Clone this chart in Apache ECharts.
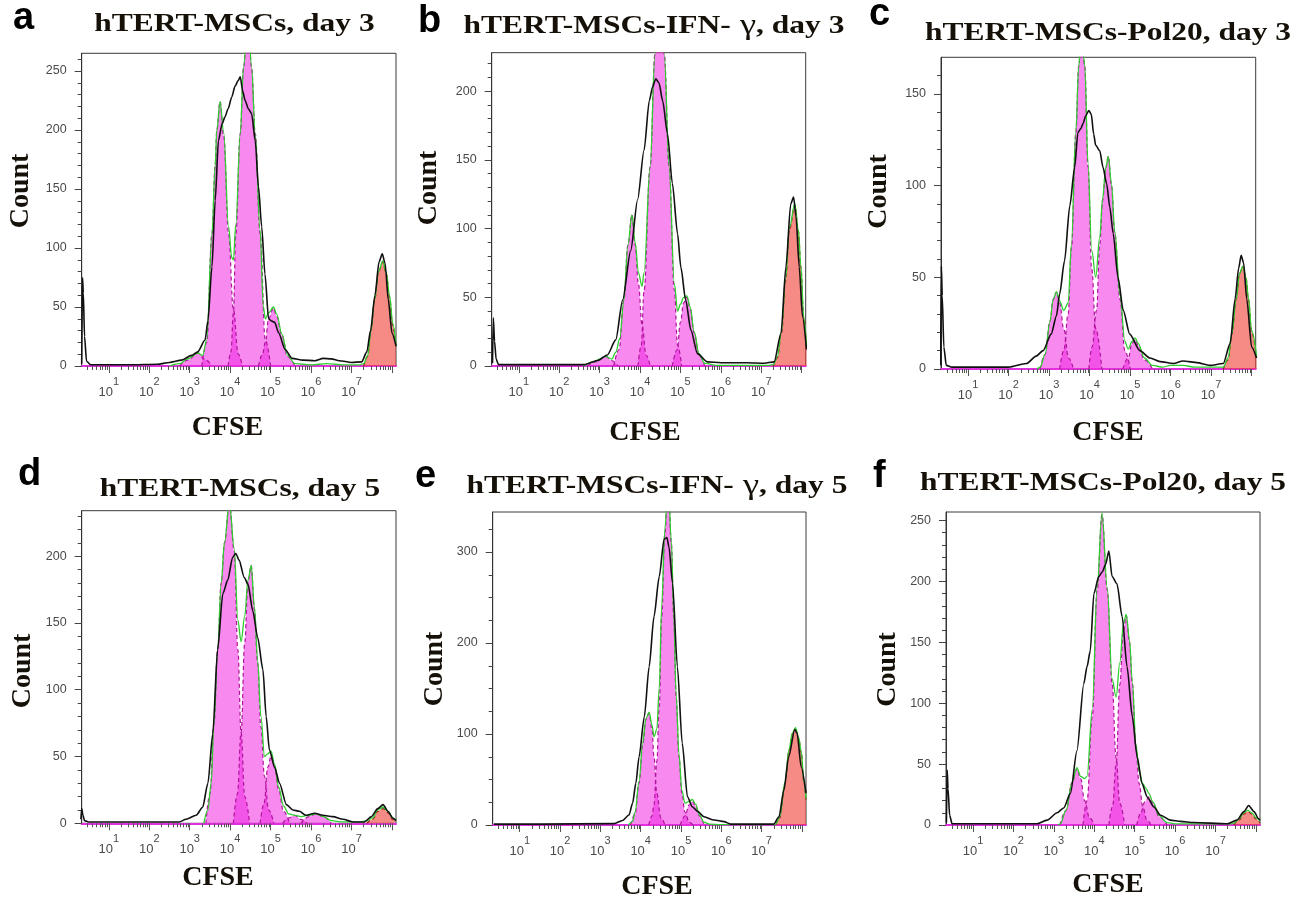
<!DOCTYPE html>
<html><head><meta charset="utf-8">
<script src="https://cdn.jsdelivr.net/npm/echarts@6/dist/echarts.min.js"></script>
<style>html,body{margin:0;padding:0;background:#fff}#c{width:1311px;height:898px}</style>
</head><body><div id="c"></div>
<script>
// ---------- DATA (x = log10 CFSE intensity, y = count) ----------
const panelLetters = ['a','b','c','d','e','f'];
const panelTitles = ['hTERT-MSCs, day 3','hTERT-MSCs-IFN-γ, day 3','hTERT-MSCs-Pol20, day 3',
                     'hTERT-MSCs, day 5','hTERT-MSCs-IFN-γ, day 5','hTERT-MSCs-Pol20, day 5'];
const xDecades = [1,2,3,4,5,6,7];
const xMajorTicks = [1,2,3,4,5,6,7,8];
const yMaxes = [265,228,170,234,344,257];
const aYTicks = [0,50,100,150,200,250];
const bYTicks = [0,50,100,150,200];
const cYTicks = [0,50,100,150];
const dYTicks = [0,50,100,150,200];
const eYTicks = [0,100,200,300];
const fYTicks = [0,50,100,150,200,250];

const aBlack = [[0.33,2],[0.35,75],[0.37,62],[0.4,25],[0.45,4],[0.55,1],[1.5,1],[2.2,1.5],[2.5,3],[2.8,5],[3.05,9],[3.2,12],[3.38,22],[3.45,38],[3.55,84],[3.63,140],[3.71,191],[3.8,205],[3.87,211],[3.95,218],[4.04,228],[4.12,237],[4.2,242],[4.25,245],[4.31,233],[4.37,225],[4.45,218],[4.53,214],[4.62,191],[4.7,152],[4.78,118],[4.86,78],[4.95,40],[5.03,38],[5.1,37],[5.2,28],[5.36,14],[5.53,6.5],[5.8,5],[6.1,4.5],[6.3,6.5],[6.5,6],[6.7,4.5],[7.0,3],[7.25,3.5],[7.38,12],[7.47,30],[7.58,60],[7.68,88],[7.76,95],[7.83,87],[7.91,56],[8.0,28],[8.1,17]];
const aFit = [[2.5,0],[2.75,2],[2.95,6],[3.2,11],[3.32,9],[3.42,22],[3.55,112],[3.63,170],[3.67,200],[3.75,224],[3.84,198],[3.96,118],[4.04,92],[4.08,90],[4.14,120],[4.25,197],[4.33,253],[4.44,300],[4.53,253],[4.62,197],[4.74,115],[4.82,50],[4.87,40],[4.95,45],[5.07,50],[5.15,44],[5.28,27],[5.42,9],[5.6,2],[6.0,1],[6.4,2],[6.8,1],[7.2,1],[7.3,2],[7.4,9],[7.48,30],[7.57,56],[7.67,80],[7.77,89],[7.86,79],[7.94,60],[8.02,36],[8.1,17]];
const aGen = [
  [[2.75,0],[2.95,5],[3.2,11],[3.4,5],[3.55,0]],
  [[3.3,0],[3.42,20],[3.55,112],[3.63,170],[3.67,200],[3.75,224],[3.84,195],[3.96,112],[4.08,48],[4.2,10],[4.3,0]],
  [[3.95,0],[4.02,12],[4.08,45],[4.14,112],[4.25,197],[4.33,253],[4.44,300],[4.53,253],[4.62,197],[4.74,112],[4.87,22],[5.0,0]],
  [[4.7,0],[4.8,10],[4.87,20],[4.95,40],[5.07,49],[5.15,42],[5.28,26],[5.42,8],[5.6,0]]
];
const aParent = [[7.3,0],[7.4,8],[7.48,30],[7.57,56],[7.67,80],[7.77,88],[7.86,78],[7.94,58],[8.02,34],[8.1,15]];

const bBlack = [[0.35,2],[0.37,35],[0.4,18],[0.44,5],[0.5,1],[1.5,1],[2.62,1],[2.95,4],[3.19,8],[3.4,19],[3.57,48],[3.77,84],[3.94,121],[4.1,157],[4.23,193],[4.31,203],[4.39,209],[4.47,206],[4.56,193],[4.68,169],[4.8,133],[4.93,96],[5.01,72],[5.13,48],[5.26,26],[5.42,9],[5.67,3],[6.0,2.4],[6.66,2.4],[7.07,2],[7.32,3],[7.49,24],[7.61,72],[7.73,118],[7.8,123],[7.86,109],[7.94,72],[8.02,36],[8.12,12]];
const bFit = [[2.6,0],[2.85,3],[3.0,5],[3.15,7],[3.3,5],[3.4,10],[3.5,20],[3.6,48],[3.7,88],[3.8,110],[3.88,90],[3.96,68],[4.05,58],[4.1,68],[4.25,145],[4.37,227],[4.47,280],[4.6,227],[4.72,145],[4.85,60],[4.93,40],[5.0,45],[5.08,50],[5.16,51],[5.24,43],[5.34,25],[5.46,9],[5.6,2],[5.9,0.5],[6.5,0.5],[7.2,0.5],[7.3,1],[7.4,7],[7.5,25],[7.6,63],[7.7,101],[7.83,118],[7.92,99],[7.98,73],[8.05,36],[8.12,15]];
const bGen = [
  [[2.7,0],[2.9,3],[3.15,7],[3.3,4],[3.45,0]],
  [[3.35,0],[3.48,12],[3.6,48],[3.7,88],[3.8,110],[3.88,88],[3.96,60],[4.05,30],[4.15,8],[4.25,0]],
  [[3.95,0],[4.03,15],[4.1,55],[4.25,145],[4.37,227],[4.47,280],[4.6,227],[4.72,145],[4.85,55],[4.93,15],[5.03,0]],
  [[4.8,0],[4.92,12],[5.0,32],[5.08,46],[5.16,50],[5.24,42],[5.34,24],[5.46,8],[5.6,0]]
];
const bParent = [[7.3,0],[7.4,6],[7.5,24],[7.6,62],[7.7,100],[7.83,117],[7.92,98],[7.98,72],[8.05,35],[8.12,14]];

const cBlack = [[0.32,2],[0.34,56],[0.36,40],[0.4,12],[0.46,2],[0.6,1],[2.0,1],[2.44,3],[2.68,7],[2.85,10],[3.05,19],[3.18,29],[3.26,41],[3.38,59],[3.51,89],[3.63,110],[3.71,129],[3.78,131],[3.84,134],[3.9,138],[3.98,141],[4.04,139],[4.1,128],[4.15,122],[4.25,119],[4.33,110],[4.42,101],[4.5,88],[4.58,74],[4.7,50],[4.83,32],[4.99,19],[5.24,10],[5.49,6],[5.74,4],[6.07,3],[6.3,4.4],[6.45,4],[6.64,3.5],[6.97,2],[7.3,3],[7.47,14],[7.59,38],[7.68,55],[7.74,62],[7.8,58],[7.88,38],[8.0,12],[8.12,6]];
const cFit = [[2.7,0],[2.78,1],[2.9,8],[3.02,26],[3.1,38],[3.18,42],[3.26,37],[3.36,32],[3.47,36],[3.55,68],[3.66,130],[3.73,165],[3.8,185],[3.88,165],[3.96,112],[4.05,65],[4.15,50],[4.25,72],[4.32,93],[4.4,110],[4.46,116],[4.54,101],[4.62,75],[4.75,40],[4.87,15],[4.95,11],[5.05,15],[5.12,17],[5.2,14],[5.35,6],[5.55,2],[5.8,1],[6.0,2],[6.3,2],[6.6,1],[7.0,1],[7.3,1],[7.42,6],[7.51,19],[7.62,38],[7.7,52],[7.78,56],[7.86,50],[7.92,39],[8.0,21],[8.12,7]];
const cGen = [
  [[2.78,0],[2.9,8],[3.02,26],[3.1,38],[3.18,42],[3.26,36],[3.36,22],[3.48,6],[3.6,0]],
  [[3.26,0],[3.36,10],[3.47,30],[3.55,66],[3.66,129],[3.73,165],[3.8,185],[3.88,165],[3.96,110],[4.05,55],[4.15,22],[4.3,0]],
  [[3.98,0],[4.06,12],[4.17,32],[4.25,68],[4.32,92],[4.4,110],[4.46,116],[4.54,100],[4.62,74],[4.75,38],[4.87,10],[5.0,0]],
  [[4.82,0],[4.95,6],[5.05,14],[5.12,16],[5.2,13],[5.35,5],[5.55,0]]
];
const cParent = [[7.3,0],[7.42,5],[7.51,19],[7.62,38],[7.7,52],[7.78,56],[7.86,50],[7.92,38],[8.0,20],[8.12,6]];

const dBlack = [[0.31,3],[0.33,11],[0.36,6],[0.4,2],[0.5,1],[1.5,1],[2.74,1],[2.91,3],[3.16,6],[3.32,12],[3.45,30],[3.57,67],[3.69,130],[3.82,172],[3.94,182],[4.06,199],[4.14,202],[4.22,197],[4.35,184],[4.44,179],[4.56,159],[4.68,139],[4.81,115],[4.89,80],[4.97,55],[5.1,42],[5.22,30],[5.39,14],[5.55,10],[5.71,9],[5.88,6],[6.09,7.5],[6.29,6],[6.54,5],[6.79,3],[7.04,1],[7.32,1],[7.49,5],[7.65,11],[7.78,14],[7.9,9],[8.02,4],[8.1,2]];
const dFit = [[3.35,0],[3.45,10],[3.53,30],[3.6,75],[3.69,130],[3.78,180],[3.86,210],[3.98,240],[4.1,206],[4.19,152],[4.27,136],[4.36,155],[4.44,182],[4.52,193],[4.6,162],[4.68,122],[4.76,80],[4.85,50],[4.93,52],[5.01,54],[5.1,44],[5.2,27],[5.32,13],[5.45,7],[5.6,6],[5.75,5],[5.95,6],[6.12,7],[6.3,5],[6.5,2],[6.8,1],[7.2,1],[7.38,2],[7.52,4],[7.65,10],[7.78,12],[7.9,9],[8.02,4],[8.1,2]];
const dGen = [
  [[3.4,0],[3.5,22],[3.6,75],[3.69,130],[3.78,180],[3.86,210],[3.98,240],[4.1,204],[4.19,130],[4.27,68],[4.36,20],[4.48,0]],
  [[4.08,0],[4.18,22],[4.27,68],[4.36,135],[4.44,180],[4.52,193],[4.6,160],[4.68,120],[4.76,72],[4.85,35],[4.95,10],[5.08,0]],
  [[4.74,0],[4.84,15],[4.93,42],[5.01,50],[5.1,42],[5.2,25],[5.32,9],[5.47,0]],
  [[5.3,0],[5.45,4],[5.6,6],[5.75,3],[5.9,0]],
  [[5.75,0],[5.95,5],[6.12,7],[6.3,5],[6.5,0]]
];
const dParent = [[7.38,0],[7.52,3],[7.65,9],[7.78,11],[7.9,8],[8.02,3],[8.1,1]];

const eBlack = [[0.36,1],[1.5,1],[3.34,1.5],[3.55,5],[3.71,11],[3.8,24],[3.88,46],[3.96,75],[4.09,119],[4.21,174],[4.33,229],[4.46,273],[4.58,314],[4.65,316],[4.7,306],[4.79,266],[4.91,174],[5.03,90],[5.16,31],[5.28,20],[5.41,15],[5.57,9],[5.82,5.5],[6.07,3.7],[6.23,1],[7.3,1],[7.43,9],[7.55,38],[7.67,75],[7.82,105],[7.88,101],[7.98,64],[8.1,35]];
const eFit = [[3.7,0],[3.8,4],[3.86,14],[3.96,48],[4.05,90],[4.13,117],[4.21,124],[4.28,110],[4.33,97],[4.4,105],[4.46,150],[4.52,240],[4.6,325],[4.68,380],[4.76,312],[4.82,232],[4.88,143],[4.95,78],[5.02,38],[5.1,24],[5.2,26],[5.28,28],[5.36,23],[5.46,11],[5.57,3],[5.7,1],[6.0,0.5],[7.3,0.5],[7.35,1],[7.45,9],[7.58,47],[7.68,83],[7.76,101],[7.84,107],[7.92,96],[7.98,81],[8.05,47],[8.1,29]];
const eGen = [
  [[3.75,0],[3.86,12],[3.96,46],[4.05,88],[4.13,116],[4.21,123],[4.28,105],[4.33,75],[4.4,35],[4.5,8],[4.6,0]],
  [[4.2,0],[4.28,10],[4.33,22],[4.4,70],[4.46,130],[4.52,229],[4.6,320],[4.68,380],[4.76,310],[4.82,229],[4.88,140],[4.95,75],[5.02,35],[5.1,14],[5.2,3],[5.3,0]],
  [[4.98,0],[5.1,10],[5.2,22],[5.28,26],[5.36,21],[5.46,10],[5.57,0]]
];
const eParent = [[7.35,0],[7.45,8],[7.58,46],[7.68,82],[7.76,100],[7.84,105],[7.92,95],[7.98,80],[8.05,46],[8.1,28]];

const fBlack = [[0.34,2],[0.36,45],[0.38,30],[0.42,8],[0.48,1],[1.5,1],[2.58,1],[2.83,4],[3.08,10],[3.24,14],[3.41,26],[3.57,61],[3.74,116],[3.82,130],[3.9,143],[3.99,190],[4.11,204],[4.2,208],[4.28,214],[4.36,225],[4.44,204],[4.56,198],[4.69,171],[4.81,130],[4.94,89],[5.06,56],[5.18,34],[5.31,23],[5.47,15],[5.64,8],[5.88,4],[6.13,3],[6.46,2],[7.29,1],[7.53,4],[7.7,11],[7.82,16],[7.95,11],[8.07,5],[8.1,4]];
const fFit = [[3.1,0],[3.16,1],[3.3,12],[3.45,35],[3.57,47],[3.66,40],[3.76,38],[3.82,40],[3.95,95],[4.07,195],[4.19,256],[4.32,195],[4.44,120],[4.54,105],[4.63,133],[4.72,165],[4.79,173],[4.87,152],[4.94,118],[5.03,66],[5.11,44],[5.2,34],[5.28,30],[5.35,26],[5.45,19],[5.6,8],[5.8,2],[6.0,1],[7.4,1],[7.45,1.5],[7.58,5],[7.7,10],[7.8,12],[7.9,10],[8.0,6],[8.1,3]];
const fGen = [
  [[3.15,0],[3.3,12],[3.45,35],[3.57,46],[3.66,38],[3.76,20],[3.88,6],[4.0,0]],
  [[3.72,0],[3.82,20],[3.95,89],[4.07,193],[4.19,255],[4.32,193],[4.44,116],[4.54,55],[4.63,18],[4.75,0]],
  [[4.36,0],[4.45,15],[4.54,50],[4.63,115],[4.72,160],[4.79,172],[4.87,150],[4.94,116],[5.03,62],[5.11,34],[5.2,15],[5.3,4],[5.4,0]],
  [[5.05,0],[5.15,10],[5.25,19],[5.35,23],[5.45,18],[5.6,7],[5.8,0]]
];
const fParent = [[7.45,0],[7.58,4],[7.7,9],[7.8,11],[7.9,9],[8.0,5],[8.1,2]];

// ---------- LAYOUT / STYLE ----------
const X_MIN = 0.33, X_MAX = 8.1;
const panels = [
  {black:aBlack, fit:aFit, gens:aGen, parent:aParent, yTicks:aYTicks, yMinor:10},
  {black:bBlack, fit:bFit, gens:bGen, parent:bParent, yTicks:bYTicks, yMinor:10},
  {black:cBlack, fit:cFit, gens:cGen, parent:cParent, yTicks:cYTicks, yMinor:10},
  {black:dBlack, fit:dFit, gens:dGen, parent:dParent, yTicks:dYTicks, yMinor:10},
  {black:eBlack, fit:eFit, gens:eGen, parent:eParent, yTicks:eYTicks, yMinor:25},
  {black:fBlack, fit:fFit, gens:fGen, parent:fParent, yTicks:fYTicks, yMinor:10}
];
const layout = [
  {grid:[81.7,53.3,314.3,312.7], letter:[13,32],   title:[234.5,33.3], count:[21,191],   cfse:[227.5,428]},
  {grid:[491.7,52.7,314,313.3],  letter:[418,35],  title:[654,35],     count:[429,188],  cfse:[645,433]},
  {grid:[941,57.3,314.7,311.7],  letter:[869,28],  title:[1108,41.7],  count:[879,191.5],cfse:[1108,432.5]},
  {grid:[81.7,510.7,314.3,312.6],letter:[18,488],  title:[240,498.3],  count:[23,671],   cfse:[218,878]},
  {grid:[492.7,512,313.3,313],   letter:[415,490], title:[657,495],    count:[435,669],  cfse:[657,887]},
  {grid:[946,512,314,313],       letter:[873,490], title:[1103,491.7], count:[888,669.5],cfse:[1108,885]}
];

const xMinorTicks = [];
for (let d = 0; d <= 8; d++) for (let k = 2; k <= 9; k++) {
  const v = d + Math.log10(k);
  if (v > X_MIN && v < X_MAX) xMinorTicks.push(v);
}

const TXT = '#151008';
const grids = [], xAxes = [], yAxes = [], series = [], graphics = [];

panels.forEach((p, i) => {
  const L = layout[i];
  const ymax = yMaxes[i];
  grids.push({left:L.grid[0], top:L.grid[1], width:L.grid[2], height:L.grid[3],
    show:true, borderColor:'#3a3a3a', borderWidth:1, backgroundColor:'transparent'});
  // primary x
  xAxes.push({gridIndex:i, type:'value', position:'bottom', min:X_MIN, max:X_MAX,
    axisLine:{show:true, onZero:false, lineStyle:{color:'#E030E0', width:2}},
    axisTick:{show:true, length:7, customValues:xMajorTicks, lineStyle:{color:'#555', width:1}},
    axisLabel:{show:true, customValues:xDecades, margin:19,
      formatter: v => '{b|10}{s|' + Math.round(v) + '}',
      rich:{
        b:{fontSize:13, fontFamily:'Liberation Sans', color:'#4a4a4a', lineHeight:14, verticalAlign:'bottom'},
        s:{fontSize:11, fontFamily:'Liberation Sans', color:'#4a4a4a', lineHeight:12, padding:[0,0,12,0], verticalAlign:'bottom'}
      }},
    splitLine:{show:false}});
  // minor x
  xAxes.push({gridIndex:i, type:'value', position:'bottom', min:X_MIN, max:X_MAX,
    axisLine:{show:false, onZero:false},
    axisTick:{show:true, length:4, customValues:xMinorTicks, lineStyle:{color:'#555', width:1}},
    axisLabel:{show:false}, splitLine:{show:false}});
  // primary y
  const yMinorTicks = [];
  for (let v = p.yMinor; v < ymax; v += p.yMinor) if (p.yTicks.indexOf(v) < 0) yMinorTicks.push(v);
  yAxes.push({gridIndex:i, type:'value', position:'left', min:0, max:ymax,
    axisLine:{show:true, onZero:false, lineStyle:{color:'#333', width:1}},
    axisTick:{show:true, length:7, customValues:p.yTicks, lineStyle:{color:'#444'}},
    axisLabel:{show:true, customValues:p.yTicks, margin:15, fontSize:12.5, fontFamily:'Liberation Sans', color:'#4a4a4a'},
    splitLine:{show:false}});
  yAxes.push({gridIndex:i, type:'value', position:'left', min:0, max:ymax,
    axisLine:{show:false, onZero:false},
    axisTick:{show:true, length:4, customValues:yMinorTicks, lineStyle:{color:'#444'}},
    axisLabel:{show:false}, splitLine:{show:false}});

  const xi = 2*i, yi = 2*i;
  p.gens.forEach(g => series.push({type:'line', xAxisIndex:xi, yAxisIndex:yi, data:g,
    smooth:0.4, smoothMonotone:'x', symbol:'none', silent:true, z:2,
    lineStyle:{color:'#B0149C', width:1.2, type:[4,3]},
    areaStyle:{color:'rgba(240,40,225,0.55)', opacity:1}}));
  series.push({type:'line', xAxisIndex:xi, yAxisIndex:yi, data:p.parent,
    smooth:0.4, smoothMonotone:'x', symbol:'none', silent:true, z:2,
    lineStyle:{color:'#9A1A1A', width:1.2, type:[4,3]},
    areaStyle:{color:'rgba(240,60,50,0.6)', opacity:1}});
  series.push({type:'line', xAxisIndex:xi, yAxisIndex:yi, data:p.fit,
    smooth:0.35, smoothMonotone:'x', symbol:'none', silent:true, z:3,
    lineStyle:{color:'#2ECC2E', width:1.3}});
  series.push({type:'line', xAxisIndex:xi, yAxisIndex:yi, data:p.black,
    smooth:0.25, smoothMonotone:'x', symbol:'none', silent:true, z:4,
    lineStyle:{color:'#111', width:1.6}});

  // texts
  graphics.push({type:'text', x:L.letter[0], y:L.letter[1]-13.2, z:10,
    style:{text:panelLetters[i], font:'bold 38px "Liberation Sans"', fill:'#000',
      align:'left', verticalAlign:'middle', textAlign:'left', textVerticalAlign:'middle'}});
  const t = panelTitles[i];
  const gi = t.indexOf('γ');
  let titleText;
  if (gi >= 0) titleText = '{b|' + t.slice(0, gi) + '}{g| γ}{b|' + t.slice(gi+1) + '}';
  else titleText = '{b|' + t + '}';
  graphics.push({type:'text', x:L.title[0], y:L.title[1]-8.5, scaleX:1.26, z:10,
    style:{text:titleText, font:'bold 25px "Liberation Serif"', fill:TXT,
      align:'center', verticalAlign:'middle', textAlign:'center', textVerticalAlign:'middle',
      rich:{
        b:{fontSize:25, fontWeight:'bold', fontFamily:'Liberation Serif', fill:TXT},
        g:{fontSize:29, fontWeight:'normal', fontFamily:'Liberation Serif', fill:TXT}
      }}});
  graphics.push({type:'text', x:L.count[0], y:L.count[1], rotation:Math.PI/2, z:10,
    style:{text:'Count', font:'bold 28px "Liberation Serif"', fill:TXT,
      align:'center', verticalAlign:'middle', textAlign:'center', textVerticalAlign:'middle'}});
  graphics.push({type:'text', x:L.cfse[0], y:L.cfse[1], z:10,
    style:{text:'CFSE', font:'bold 28px "Liberation Serif"', fill:TXT,
      align:'center', verticalAlign:'middle', textAlign:'center', textVerticalAlign:'middle'}});
});

const chart = echarts.init(document.getElementById('c'), null, {renderer:'canvas'});
chart.setOption({
  animation:false,
  backgroundColor:'#fff',
  grid:grids, xAxis:xAxes, yAxis:yAxes, series:series,
  graphic:{elements:graphics}
});
</script>
</body></html>
